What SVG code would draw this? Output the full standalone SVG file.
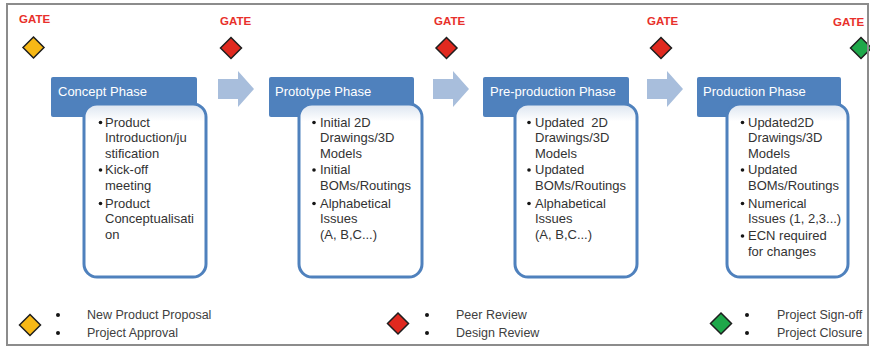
<svg xmlns="http://www.w3.org/2000/svg" xmlns:xlink="http://www.w3.org/1999/xlink" width="870" height="346" viewBox="0 0 870 346">
<style>
.gate{font-family:"Liberation Sans",Arial,sans-serif;font-weight:bold;font-size:11.5px;fill:#e8302b}
.dia{stroke:#1e1e1e;stroke-width:1.5;stroke-linejoin:miter}
.yel{fill:#f7b816}.red{fill:#e0291f}.grn{fill:#1ea84a}
.hdr{fill:#4f81bd}
.hdrt{font-family:"Liberation Sans",Arial,sans-serif;font-size:13px;fill:#ffffff}
.body{fill:url(#bodyg);stroke:#4f81bd;stroke-width:3}
.bt{font-family:"Liberation Sans",Arial,sans-serif;font-size:13px;fill:#333333}
.bul{fill:#151515}
.arr{fill:#a8bedc}
.lt{font-family:"Liberation Sans",Arial,sans-serif;font-size:12.5px;fill:#404040}
</style>
<defs>
<path id="dia" d="M0,-10.5 L10.5,0 L0,10.5 L-10.5,0 Z"/>
<path id="arrow" d="M0,-10 H20 V-18 L36,0 L20,18 V10 H0 Z"/>
<linearGradient id="bodyg" x1="0" y1="0" x2="0" y2="1">
<stop offset="0" stop-color="#dbe4f0"/>
<stop offset="0.1" stop-color="#ffffff"/>
<stop offset="1" stop-color="#ffffff"/>
</linearGradient>
</defs>
<rect x="0" y="0" width="870" height="346" fill="#ffffff"/>

<g id="gate1"><text class="gate" x="19" y="23">GATE</text><use xlink:href="#dia" class="dia yel" x="33.5" y="47.5"/></g>
<g id="gate2"><text class="gate" x="220" y="25">GATE</text><use xlink:href="#dia" class="dia red" x="231" y="48"/></g>
<g id="gate3"><text class="gate" x="434" y="25">GATE</text><use xlink:href="#dia" class="dia red" x="446.5" y="48"/></g>
<g id="gate4"><text class="gate" x="647" y="25">GATE</text><use xlink:href="#dia" class="dia red" x="661" y="48"/></g>
<g id="gate5"><text class="gate" x="833" y="26">GATE</text><use xlink:href="#dia" class="dia grn" x="861" y="48"/></g>

<g id="connectors">
<use xlink:href="#arrow" class="arr" x="218" y="89"/>
<use xlink:href="#arrow" class="arr" x="433" y="89"/>
<use xlink:href="#arrow" class="arr" x="647" y="89"/>
</g>

<g id="concept">
<rect class="hdr" x="51" y="77" width="146" height="40" rx="2"/>
<text class="hdrt" x="58" y="95.5">Concept Phase</text>
<rect class="body" x="84" y="104" width="122" height="173" rx="13"/>
<circle class="bul" cx="100.5" cy="122.5" r="1.8"/><circle class="bul" cx="100.5" cy="170" r="1.8"/><circle class="bul" cx="100.5" cy="203.5" r="1.8"/>
<text class="bt" x="105" y="126.5">Product</text>
<text class="bt" x="105" y="142">Introduction/ju</text>
<text class="bt" x="105" y="157.5">stification</text>
<text class="bt" x="105" y="174">Kick-off</text>
<text class="bt" x="105" y="189.5">meeting</text>
<text class="bt" x="105" y="207.5">Product</text>
<text class="bt" x="105" y="223">Conceptualisati</text>
<text class="bt" x="105" y="238.5">on</text>
</g>

<g id="prototype">
<rect class="hdr" x="269" y="77" width="145" height="40" rx="2"/>
<text class="hdrt" x="275" y="95.5">Prototype Phase</text>
<rect class="body" x="299" y="104" width="123" height="173" rx="13"/>
<circle class="bul" cx="314" cy="122.5" r="1.8"/><circle class="bul" cx="314" cy="170" r="1.8"/><circle class="bul" cx="314" cy="203.5" r="1.8"/>
<text class="bt" x="320" y="126.5">Initial 2D</text>
<text class="bt" x="320" y="142">Drawings/3D</text>
<text class="bt" x="320" y="157.5">Models</text>
<text class="bt" x="320" y="174">Initial</text>
<text class="bt" x="320" y="189.5">BOMs/Routings</text>
<text class="bt" x="320" y="207.5">Alphabetical</text>
<text class="bt" x="320" y="223">Issues</text>
<text class="bt" x="320" y="238.5">(A, B,C...)</text>
</g>

<g id="preproduction">
<rect class="hdr" x="483" y="77" width="146" height="40" rx="2"/>
<text class="hdrt" x="490" y="95.5">Pre-production Phase</text>
<rect class="body" x="515" y="104" width="122" height="173" rx="13"/>
<circle class="bul" cx="529" cy="122.5" r="1.8"/><circle class="bul" cx="529" cy="170" r="1.8"/><circle class="bul" cx="529" cy="203.5" r="1.8"/>
<text class="bt" x="535" y="126.5" xml:space="preserve">Updated  2D</text>
<text class="bt" x="535" y="142">Drawings/3D</text>
<text class="bt" x="535" y="157.5">Models</text>
<text class="bt" x="535" y="174">Updated</text>
<text class="bt" x="535" y="189.5">BOMs/Routings</text>
<text class="bt" x="535" y="207.5">Alphabetical</text>
<text class="bt" x="535" y="223">Issues</text>
<text class="bt" x="535" y="238.5">(A, B,C...)</text>
</g>

<g id="production">
<rect class="hdr" x="697" y="77" width="144" height="40" rx="2"/>
<text class="hdrt" x="703" y="95.5">Production Phase</text>
<rect class="body" x="727" y="104" width="121" height="173" rx="13"/>
<circle class="bul" cx="742.5" cy="122.5" r="1.8"/><circle class="bul" cx="742.5" cy="170" r="1.8"/><circle class="bul" cx="742.5" cy="203.5" r="1.8"/><circle class="bul" cx="742.5" cy="236" r="1.8"/>
<text class="bt" x="748" y="126.5">Updated2D</text>
<text class="bt" x="748" y="142">Drawings/3D</text>
<text class="bt" x="748" y="157.5">Models</text>
<text class="bt" x="748" y="174">Updated</text>
<text class="bt" x="748" y="189.5">BOMs/Routings</text>
<text class="bt" x="748" y="207.5">Numerical</text>
<text class="bt" x="748" y="223">Issues (1, 2,3...)</text>
<text class="bt" x="748" y="240">ECN required</text>
<text class="bt" x="748" y="255.5">for changes</text>
</g>

<g id="legend-yellow">
<use xlink:href="#dia" class="dia yel" x="30" y="325"/>
<circle class="bul" cx="58" cy="315" r="2"/><circle class="bul" cx="58" cy="333" r="2"/>
<text class="lt" x="87" y="318.5">New Product Proposal</text>
<text class="lt" x="87" y="336.5">Project Approval</text>
</g>
<g id="legend-red">
<use xlink:href="#dia" class="dia red" x="398" y="323.5"/>
<circle class="bul" cx="427" cy="315" r="2"/><circle class="bul" cx="427" cy="333" r="2"/>
<text class="lt" x="456" y="318.5">Peer Review</text>
<text class="lt" x="456" y="336.5">Design Review</text>
</g>
<g id="legend-green">
<use xlink:href="#dia" class="dia grn" x="721" y="323.5"/>
<circle class="bul" cx="747" cy="315" r="2"/><circle class="bul" cx="747" cy="333" r="2"/>
<text class="lt" x="777" y="318.5">Project Sign-off</text>
<text class="lt" x="777" y="336.5">Project Closure</text>
</g>

<rect x="7" y="4" width="861" height="341" fill="none" stroke="#8c8c8c" stroke-width="2"/>
</svg>
